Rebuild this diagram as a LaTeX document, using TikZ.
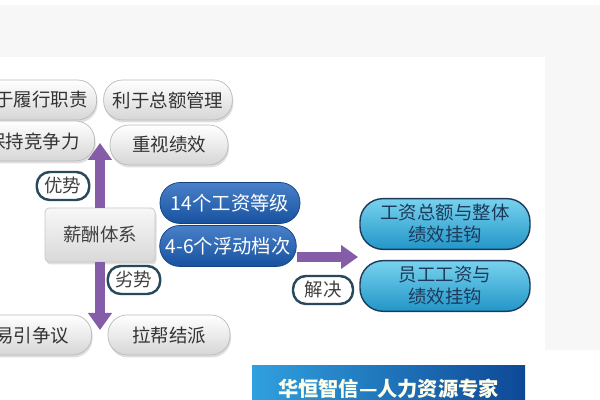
\documentclass[tikz,border=0pt]{standalone}
\usepackage{fontspec}
\setmainfont{Noto Sans CJK SC}
\usetikzlibrary{arrows.meta,shadows}
\definecolor{arrowpurple}{RGB}{132,92,168}
\definecolor{tagborder}{RGB}{40,72,92}
\definecolor{bluetop}{RGB}{72,128,200}
\definecolor{bluebot}{RGB}{24,82,160}
\definecolor{cyantop}{RGB}{120,210,238}
\definecolor{cyanbot}{RGB}{34,150,200}
\definecolor{navytext}{RGB}{30,58,90}
\definecolor{bannerleft}{RGB}{48,160,222}
\definecolor{bannerright}{RGB}{14,72,150}

\begin{document}
\begin{tikzpicture}
        % Define styles
        \tikzset{
            pill/.style={rectangle, rounded corners=0.38cm, draw=gray!55, top color=white, bottom color=gray!32, text=black!80, minimum height=0.8cm, inner xsep=0.18cm, font=\fontsize{10.5}{12}\selectfont, drop shadow={shadow xshift=0.02cm, shadow yshift=-0.05cm, opacity=0.25}},
            tag/.style={rectangle, rounded corners=0.26cm, draw=tagborder, line width=1.4pt, fill=white, minimum width=1.05cm, minimum height=0.56cm, inner sep=0.05cm, text=black!75, font=\fontsize{10.5}{12}\selectfont},
            system/.style={rectangle, rounded corners=0.08cm, draw=gray!45, top color=gray!6, bottom color=gray!30, minimum width=2.2cm, minimum height=1.08cm, text=black!75, font=\fontsize{10.5}{12}\selectfont, drop shadow={shadow xshift=0.03cm, shadow yshift=-0.05cm, opacity=0.25}},
            level/.style={rectangle, rounded corners=0.4cm, draw=bluebot!80!black, top color=bluetop, bottom color=bluebot, text=white, minimum height=0.82cm, font=\fontsize{11}{13}\selectfont},
            fix/.style={rectangle, rounded corners=0.46cm, draw=navytext, line width=0.8pt, top color=cyantop, bottom color=cyanbot, text=navytext, minimum width=3.4cm, minimum height=0.96cm, align=center, font=\fontsize{10.5}{12.5}\selectfont},
            arrow/.style={-{Triangle[width=0.46cm,length=0.34cm]}, line width=0.2cm, draw=arrowpurple}
        }
        \clip (0,0) rectangle (12,8);

        % Background
        \fill[black!3] (0,7.9) rectangle (12,6.86);
        \fill[black!3] (10.9,6.86) rectangle (12,1.0);

        % Nodes
        \node[pill, anchor=east] (good_node_1) at (1.94,6.0) {利于履行职责};
        \node[pill, minimum width=2.4cm] (good_node_2) at (3.36,6.0) {利于总额管理};
        \node[pill, anchor=east, inner xsep=0.3cm] (good_node_3) at (1.9,5.18) {保持竞争力};
        \node[pill, minimum width=2.36cm] (good_node_4) at (3.38,5.1) {重视绩效};
        \node[tag] (tag_node_1) at (1.26,4.28) {优势};
        \node[system] (system_node) at (2.0,3.3) {薪酬体系};
        \node[tag] (tag_node_2) at (2.68,2.4) {劣势};
        \node[pill, anchor=east, inner xsep=0.45cm] (bad_node_1) at (1.84,1.3) {容易引争议};
        \node[pill, minimum width=2.44cm] (bad_node_2) at (3.38,1.3) {拉帮结派};

        \node[level, minimum width=2.8cm] (level_node_1) at (4.6,3.94) {14个工资等级};
        \node[level, minimum width=2.7cm] (level_node_2) at (4.56,3.08) {4-6个浮动档次};
        \node[tag, minimum width=1.2cm] (tag_node_3) at (6.46,2.2) {解决};
        \node[fix] (fix_node_1) at (8.9,3.52) {工资总额与整体\\绩效挂钩};
        \node[fix] (fix_node_2) at (8.9,2.28) {员工工资与\\绩效挂钩};

        \node[rectangle, left color=bannerleft, right color=bannerright, minimum width=5.46cm, minimum height=0.95cm, anchor=north, text=white!92!yellow, font=\fontsize{11.5}{13}\bfseries] (banner_node) at (7.77,0.7) {华恒智信—人力资源专家};

        % Arrows
        \coordinate (up_tip) at (2.0,5.14);
        \coordinate (down_tip) at (2.0,1.4);
        \coordinate (right_tip) at (7.16,2.86);
        \draw[arrow] (system_node.north) -- (up_tip);
        \draw[arrow] (system_node.south) -- (down_tip);
        \draw[arrow] ([yshift=-0.22cm]level_node_2.east) -- (right_tip);
    \end{tikzpicture}
\end{document}
